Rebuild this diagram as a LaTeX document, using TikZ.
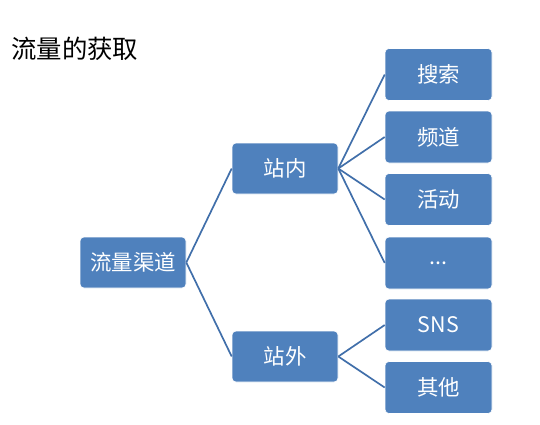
\documentclass[tikz,border=0pt]{standalone}
\usepackage{fontspec}
\setmainfont{Noto Sans CJK SC}
\usetikzlibrary{positioning}
\definecolor{boxblue}{HTML}{4F81BD}
\definecolor{lineblue}{HTML}{416FAA}

\begin{document}
\begin{tikzpicture}[
  x=1bp, y=-1bp,
  box/.style={draw=white, line width=0.6pt, fill=boxblue, rounded corners=4bp,
              text=white, font=\fontsize{21.5}{25}\selectfont, align=center,
              minimum width=106bp, minimum height=51bp, inner sep=0pt},
  xleaf/.style={box, minimum width=107bp, minimum height=52bp},
  link/.style={draw=lineblue, line width=1.7pt}]

\useasboundingbox (0,0) rectangle (540,424);

% title
\node[anchor=west, font=\fontsize{25.5}{30}\selectfont, inner sep=0pt] (title) at (11,49) {流量的获取};

% root and branches
\node[box] (root) at (133,262.5) {流量渠道};
\node[box] (inner) at (285,168.5) {站内};
\node[box] (outer) at (285,356.5) {站外};

% leaves
\node[xleaf] (lSearch) at (438.5,74.5) {搜索};
\node[xleaf] (lChan) at (438.5,137) {频道};
\node[xleaf] (lAct) at (438.5,199.5) {活动};
\node[xleaf] (lMore) at (438.5,263) {...};
\node[xleaf] (lSns) at (438.5,325) {SNS};
\node[xleaf] (lOther) at (438.5,387.5) {其他};

% connectors
\foreach \b in {inner,outer} \draw[link] (root.east) -- (\b.west);
\foreach \l in {lSearch,lChan,lAct,lMore} \draw[link] (inner.east) -- (\l.west);
\foreach \l in {lSns,lOther} \draw[link] (outer.east) -- (\l.west);
\end{tikzpicture}
\end{document}
